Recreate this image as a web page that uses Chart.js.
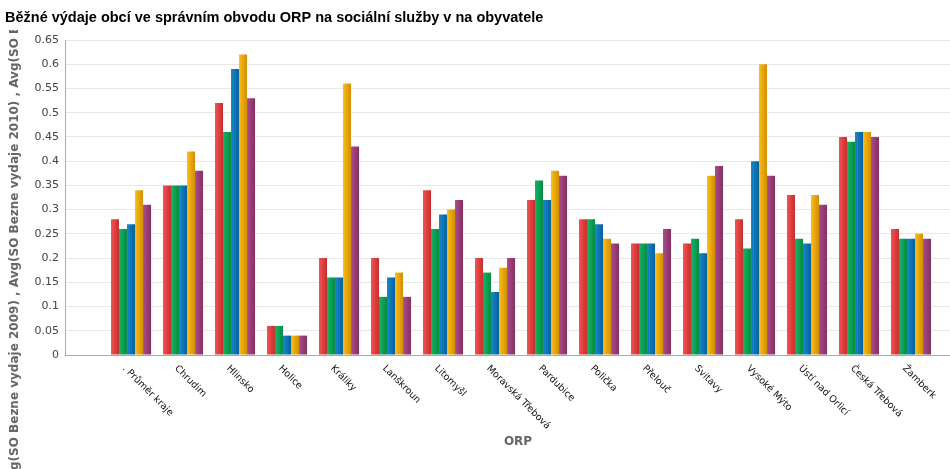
<!DOCTYPE html>
<html>
<head>
<meta charset="utf-8">
<script src="https://cdn.jsdelivr.net/npm/chart.js@4"></script>
<style>
  html, body { margin: 0; padding: 0; background: #fff; }
  #wrap { width: 950px; height: 469px; }
</style>
</head>
<body>
<div id="wrap"><canvas id="barChart"></canvas></div>
<script>
const categories = ['. Průměr kraje', 'Chrudim', 'Hlinsko', 'Holice', 'Králiky', 'Lanškroun', 'Litomyšl',
  'Moravská Třebová', 'Pardubice', 'Polička', 'Přelouč', 'Svitavy', 'Vysoké Mýto', 'Ústí nad Orlicí',
  'Česká Třebová', 'Žamberk'];
const seriesNames = ['Avg(SO Bezne vydaje 2009)', 'Avg(SO Bezne vydaje 2010)', 'Avg(SO Bezne vydaje 2011)',
  'Avg(SO Bezne vydaje 2012)', 'Avg(SO Bezne vydaje 2013)'];
const v2009 = [0.28, 0.35, 0.52, 0.06, 0.20, 0.20, 0.34, 0.20, 0.32, 0.28, 0.23, 0.23, 0.28, 0.33, 0.45, 0.26];
const v2010 = [0.26, 0.35, 0.46, 0.06, 0.16, 0.12, 0.26, 0.17, 0.36, 0.28, 0.23, 0.24, 0.22, 0.24, 0.44, 0.24];
const v2011 = [0.27, 0.35, 0.59, 0.04, 0.16, 0.16, 0.29, 0.13, 0.32, 0.27, 0.23, 0.21, 0.40, 0.23, 0.46, 0.24];
const v2012 = [0.34, 0.42, 0.62, 0.04, 0.56, 0.17, 0.30, 0.18, 0.38, 0.24, 0.21, 0.37, 0.60, 0.33, 0.46, 0.25];
const v2013 = [0.31, 0.38, 0.53, 0.04, 0.43, 0.12, 0.32, 0.20, 0.37, 0.23, 0.26, 0.39, 0.37, 0.31, 0.45, 0.24];
const yTicks = [0, 0.05, 0.1, 0.15, 0.2, 0.25, 0.3, 0.35, 0.4, 0.45, 0.5, 0.55, 0.6, 0.65];

const title = 'Běžné výdaje obcí ve správním obvodu ORP na sociální služby v na obyvatele';
const xTitle = 'ORP';
const yTitle = seriesNames.join(' , ');

// light / dark edge of each bar colour
const shades = [
  ['#f35353', '#c92d2d'],
  ['#13b563', '#078a43'],
  ['#1889cc', '#05609c'],
  ['#fdbd1a', '#d08f00'],
  ['#ad4b8f', '#84305f']
];
const allValues = [v2009, v2010, v2011, v2012, v2013];

const CAT_PCT = 0.77;

function barGradient(c) {
  const chart = c.chart;
  const x = chart.scales.x;
  if (!x || x.width === undefined || c.dataIndex === undefined) return shades[c.datasetIndex][0];
  const centre = x.getPixelForValue(c.dataIndex);
  const step = x.getPixelForValue(1) - x.getPixelForValue(0);
  const barW = step * CAT_PCT / allValues.length;
  const left = centre - step * CAT_PCT / 2 + barW * c.datasetIndex;
  const g = chart.ctx.createLinearGradient(left, 0, left + barW, 0);
  g.addColorStop(0, shades[c.datasetIndex][0]);
  g.addColorStop(1, shades[c.datasetIndex][1]);
  return g;
}

const decor = {
  id: 'decor',
  afterDraw(chart) {
    const ctx = chart.ctx;
    const x = chart.scales.x;
    const area = chart.chartArea;
    ctx.save();
    // title
    ctx.fillStyle = '#000';
    ctx.font = 'bold 14.5px "Liberation Sans", Arial, sans-serif';
    ctx.textAlign = 'left';
    ctx.textBaseline = 'middle';
    ctx.fillText(title, 5, 18);
    // category labels, rotated clockwise
    ctx.font = '9.5px "DejaVu Sans", sans-serif';
    ctx.fillStyle = '#111';
    categories.forEach((lab, i) => {
      const px = x.getPixelForValue(i);
      ctx.save();
      ctx.translate(px - 7, area.bottom + 12);
      ctx.rotate(Math.PI / 4);
      ctx.textAlign = 'left';
      ctx.textBaseline = 'middle';
      ctx.fillText(lab, 0, 0);
      ctx.restore();
    });
    // x axis title
    ctx.font = 'bold 12px "DejaVu Sans", sans-serif';
    ctx.fillStyle = '#666';
    ctx.textAlign = 'center';
    ctx.fillText(xTitle, 518, 442);
    // y axis title, clipped like the original
    ctx.beginPath();
    ctx.rect(0, 30, 40, 439);
    ctx.clip();
    ctx.font = 'bold 12px "DejaVu Sans", sans-serif';
    const skip = ctx.measureText('Av').width;
    ctx.translate(15, 469 + skip + 1);
    ctx.rotate(-Math.PI / 2);
    ctx.textAlign = 'left';
    ctx.textBaseline = 'middle';
    ctx.fillText(yTitle, 0, 0);
    ctx.restore();
  }
};

new Chart(document.getElementById('barChart'), {
  type: 'bar',
  data: {
    datasets: allValues.map((vals, k) => ({
      label: seriesNames[k],
      data: vals.map((v, i) => ({ x: i, y: v })),
      backgroundColor: barGradient,
      borderWidth: 0,
      categoryPercentage: CAT_PCT,
      barPercentage: 1.0
    }))
  },
  options: {
    responsive: true,
    maintainAspectRatio: false,
    animation: false,
    layout: { padding: { top: 40, left: 0, right: 0, bottom: 0 } },
    plugins: {
      legend: { display: false },
      title: { display: false },
      tooltip: { enabled: false }
    },
    scales: {
      x: {
        type: 'linear',
        offset: false,
        min: -1.27,
        max: 15.75,
        ticks: { display: false },
        grid: { display: false },
        border: { color: '#aaa', width: 1 },
        afterFit(s) { s.height = 114; }
      },
      y: {
        min: 0,
        max: 0.65,
        afterBuildTicks(s) { s.ticks = yTicks.map(v => ({ value: v })); },
        ticks: {
          color: '#444',
          padding: 6,
          font: { family: '"DejaVu Sans", sans-serif', size: 11 },
          callback: v => String(v)
        },
        grid: { color: '#e8e8e8', drawTicks: false },
        border: { color: '#aaa', width: 1 },
        afterFit(s) { s.width = 65; }
      }
    }
  },
  plugins: [decor]
});
</script>
</body>
</html>
